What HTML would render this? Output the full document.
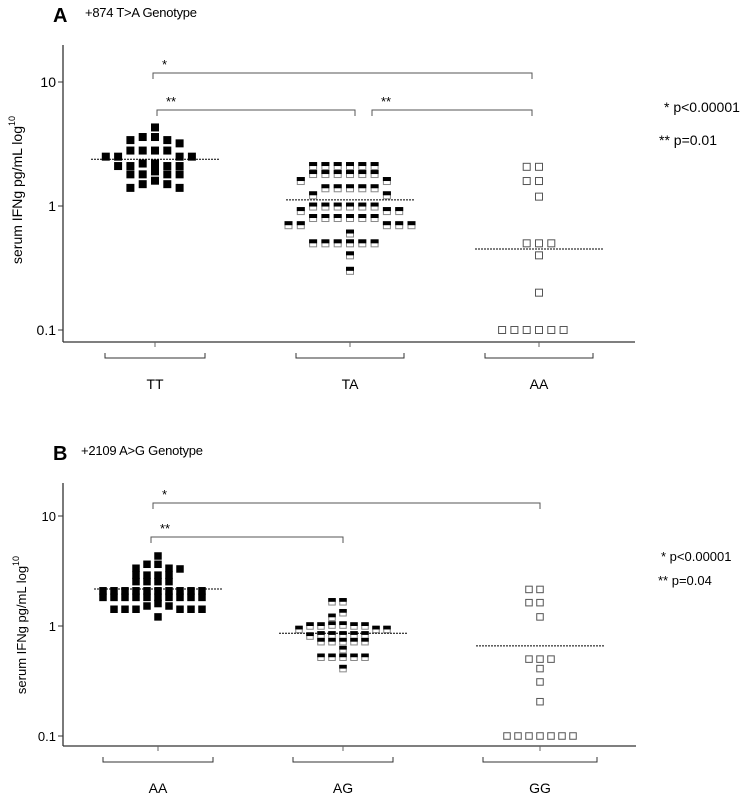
<!DOCTYPE html>
<html><head><meta charset="utf-8">
<style>
html,body{margin:0;padding:0;background:#fff;}
svg{display:block;font-family:"Liberation Sans",Arial,sans-serif;}
</style></head>
<body>
<svg id="chart" width="756" height="794" viewBox="0 0 756 794" xmlns="http://www.w3.org/2000/svg">
  <g id="panelA">
    <text x="53" y="22" font-size="20" font-weight="bold">A</text>
    <text x="85" y="17" font-size="13" textLength="112">+874 T&gt;A Genotype</text>
    <text transform="translate(22,190) rotate(-90)" text-anchor="middle" font-size="14">serum IFNg pg/mL log<tspan font-size="9" dy="-7">10</tspan></text>
    <text x="664" y="112" font-size="14">* p&lt;0.00001</text>
    <text x="659" y="145" font-size="14">** p=0.01</text>
  </g>
  <g id="panelB">
    <text x="53" y="460" font-size="20" font-weight="bold">B</text>
    <text x="81" y="455" font-size="13" textLength="122">+2109 A&gt;G Genotype</text>
    <text transform="translate(26,625) rotate(-90)" text-anchor="middle" font-size="13">serum IFNg pg/mL log<tspan font-size="9" dy="-7">10</tspan></text>
    <text x="661" y="561" font-size="13">* p&lt;0.00001</text>
    <text x="658" y="585" font-size="13">** p=0.04</text>
  </g>
</svg>
<script>
// ---- Panel A data ----
const catsA = ["TT", "TA", "AA"];
const valsA_TT = [4.3,3.6,3.6,3.4,3.4,3.2,2.8,2.8,2.8,2.8,2.5,2.5,2.5,2.5,2.2,2.2,2.1,2.1,2.1,2.1,1.9,1.8,1.8,1.8,1.8,1.6,1.5,1.5,1.4,1.4];
const valsA_TA = [2.1,2.1,2.1,2.1,2.1,2.1,1.81,1.81,1.81,1.81,1.81,1.81,1.59,1.59,1.39,1.39,1.39,1.39,1.39,1.22,1.22,0.99,0.99,0.99,0.99,0.99,0.99,0.91,0.91,0.91,0.8,0.8,0.8,0.8,0.8,0.8,0.7,0.7,0.7,0.7,0.7,0.6,0.5,0.5,0.5,0.5,0.5,0.5,0.4,0.3];
const valsA_AA = [2.07,2.07,1.59,1.59,1.19,0.5,0.5,0.5,0.4,0.2,0.1,0.1,0.1,0.1,0.1,0.1];
const meansA = [2.38, 1.12, 0.45];
const ticksA = [10, 1, 0.1];
const tickLabelsA = ["10", "1", "0.1"];
// ---- Panel B data ----
const catsB = ["AA", "AG", "GG"];
const valsB_AA = [4.33,3.64,3.64,3.35,3.35,3.3,2.9,2.9,2.9,2.9,2.53,2.53,2.53,2.53,2.09,2.09,2.09,2.09,2.09,2.09,2.09,2.09,2.09,2.09,1.82,1.82,1.82,1.82,1.82,1.82,1.82,1.82,1.82,1.82,1.6,1.52,1.52,1.42,1.42,1.42,1.42,1.42,1.42,1.21];
const valsB_AG = [1.66,1.66,1.32,1.2,1.02,1.02,1.0,1.0,1.0,1.0,0.93,0.93,0.93,0.83,0.83,0.83,0.83,0.83,0.81,0.72,0.72,0.72,0.72,0.72,0.61,0.52,0.52,0.52,0.52,0.52,0.41];
const valsB_GG = [2.15,2.15,1.63,1.63,1.21,0.5,0.5,0.5,0.41,0.31,0.205,0.1,0.1,0.1,0.1,0.1,0.1,0.1];
const meansB = [2.17, 0.86, 0.66];
const ticksB = [10, 1, 0.1];
const tickLabelsB = ["10", "1", "0.1"];

const NS = "http://www.w3.org/2000/svg";
function mk(parent, tag, attrs) {
  const e = document.createElementNS(NS, tag);
  for (const k in attrs) e.setAttribute(k, attrs[k]);
  parent.appendChild(e);
  return e;
}

function drawPanel(cfg) {
  const g = document.getElementById(cfg.id);
  const y = v => cfg.y1 - Math.log10(v) * cfg.decade;
  const x = i => cfg.cx[i];
  const ya = mk(g, "line", {x1: cfg.ax, y1: cfg.top, x2: cfg.ax, y2: cfg.bottom, stroke: "#333", "stroke-width": 1.3});
  
  
  const xa = mk(g, "line", {x1: cfg.ax, y1: cfg.bottom, x2: cfg.right, y2: cfg.bottom, stroke: "#333", "stroke-width": 1.3});
  
  
  cfg.ticks.forEach((t, i) => {
    const tl = mk(g, "line", {x1: cfg.ax - 5, y1: y(t), x2: cfg.ax, y2: y(t), stroke: "#333", "stroke-width": 1});
    
    
    const tx = mk(g, "text", {x: cfg.ax - 7, y: y(t) + 5, "text-anchor": "end", "font-size": cfg.fs});
    tx.textContent = cfg.tickLabels[i];
    
    
  });
  cfg.cats.forEach((c, i) => {
    const xt = mk(g, "line", {x1: x(i), y1: cfg.bottom, x2: x(i), y2: cfg.bottom + 5, stroke: "#666", "stroke-width": 1});
    
    
    const bl = x(i) - cfg.bw[i], br = x(i) + cfg.bw[i], by = cfg.bottom + cfg.bOff;
    const br_ = mk(g, "path", {d: `M${bl},${by-5}V${by}H${br}V${by-5}`, fill: "none", stroke: "#333", "stroke-width": 1});
    
    
    const lt = mk(g, "text", {x: x(i), y: by + 31, "text-anchor": "middle", "font-size": 14});
    lt.textContent = c;
    
    
  });
  cfg.sig.forEach(s => {
    const p = mk(g, "path", {d: `M${s.x1},${s.y+6}V${s.y}H${s.x2}V${s.y+6}`, fill: "none", stroke: "#555", "stroke-width": 1});
    
    
    const t = mk(g, "text", {x: s.x1 + 9, y: s.y - 4, "font-size": 13});
    t.textContent = s.label;
    
    
  });
  const sq = cfg.sq;
  cfg.series.forEach((vals, gi) => {
    const placed = [];
    vals.forEach(v => {
      const py = y(v);
      let k = 0, col = 0;
      for (k = 0; k < 40; k++) {
        col = k === 0 ? 0 : (k % 2 ? -Math.ceil(k / 2) : Math.ceil(k / 2));
        if (!placed.some(p => p.col === col && Math.abs(p.y - py) < cfg.thr)) break;
      }
      placed.push({col: col, y: py});
      const px = x(gi) + col * cfg.step;
      const style = cfg.styles[gi];
      if (style === "filled") {
        const r = mk(g, "rect", {x: px - sq / 2, y: py - sq / 2, width: sq, height: sq, fill: "#000"});
        
        
      } else if (style === "half") {
        const r = mk(g, "rect", {x: px - sq / 2 + 0.5, y: py - sq / 2 + 0.5, width: sq - 1, height: sq - 1, fill: "#fff", stroke: "#888", "stroke-width": 1});
        
        
        const h = mk(g, "rect", {x: px - sq / 2, y: py - sq / 2, width: sq, height: sq / 2, fill: "#000"});
        
        
      } else {
        const r = mk(g, "rect", {x: px - sq / 2 + 0.5, y: py - sq / 2 + 0.5, width: sq - 1, height: sq - 1, fill: "#fff", stroke: "#555", "stroke-width": 1});
        
        
      }
    });
    const m = mk(g, "line", {x1: x(gi) - cfg.mw[gi], y1: y(cfg.means[gi]), x2: x(gi) + cfg.mw[gi], y2: y(cfg.means[gi]), stroke: "#000", "stroke-width": 1, "stroke-dasharray": "2,1"});
    
    
  });
}

drawPanel({id: "panelA", p: "panel-a", y1: 206, decade: 124, ax: 63, top: 45, bottom: 342, right: 635,
  cx: [155, 350, 539], bw: [50, 54, 54], bOff: 16, fs: 14,
  ticks: ticksA, tickLabels: tickLabelsA, cats: catsA, means: meansA,
  series: [valsA_TT, valsA_TA, valsA_AA], styles: ["filled", "half", "open"],
  sq: 8, thr: 7.5, step: 12.3, mw: [64, 64, 64],
  sig: [{x1: 153, x2: 532, y: 73, label: "*"}, {x1: 157, x2: 355, y: 110, label: "**"}, {x1: 372, x2: 532, y: 110, label: "**"}]});

drawPanel({id: "panelB", p: "panel-b", y1: 626, decade: 110, ax: 63, top: 483, bottom: 746, right: 636,
  cx: [158, 343, 540], bw: [55, 50, 57], bOff: 16, fs: 13,
  ticks: ticksB, tickLabels: tickLabelsB, cats: catsB, means: meansB,
  series: [valsB_AA, valsB_AG, valsB_GG], styles: ["filled", "half", "open"],
  sq: 7.5, thr: 6, step: 11, mw: [64, 64, 64],
  sig: [{x1: 153, x2: 540, y: 503, label: "*"}, {x1: 151, x2: 343, y: 537, label: "**"}]});
</script>
</body></html>
